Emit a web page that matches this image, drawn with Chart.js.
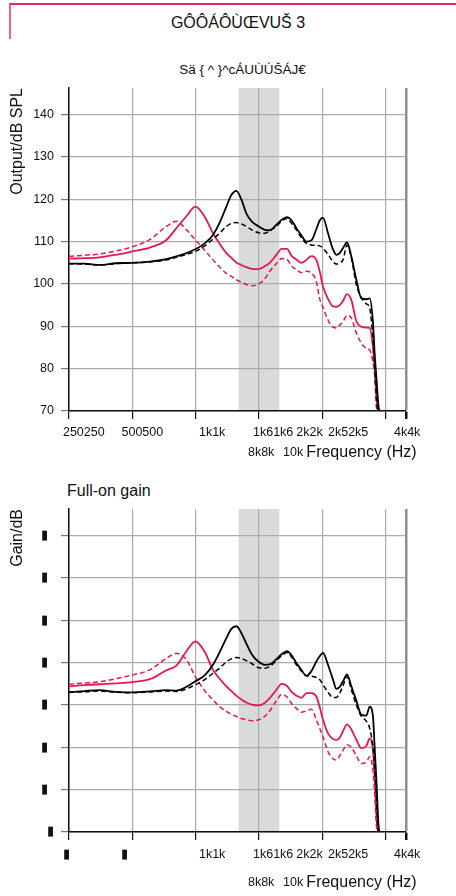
<!DOCTYPE html>
<html>
<head>
<meta charset="utf-8">
<script src="https://cdn.jsdelivr.net/npm/chart.js@4.4.1/dist/chart.umd.min.js"></script>
<style>
  body { margin: 0; width: 456px; height: 896px; position: relative; overflow: hidden; background: #fff;
         font-family: 'Liberation Sans', Arial, sans-serif; color: #111; }
  canvas { position: absolute; left: 0; }
  #outChart { top: 0; }
  #gainChart { top: 470px; }
  .frame { position: absolute; left: 9px; top: 3px; right: 0; height: 34px;
           border-top: 2px solid #e2285e; border-left: 2px solid #f2648c; }
  .title { position: absolute; left: 10px; right: -10px; top: 13px; line-height: 20px;
           text-align: center; font-size: 16px; }
  .subtitle { position: absolute; left: 29px; right: 0; top: 61px; line-height: 18px;
              text-align: center; font-size: 13.5px; }
  .gaintitle { position: absolute; left: 67px; top: 481px; line-height: 19px; font-size: 16px; }
</style>
</head>
<body>
<div class="frame"></div>
<div class="title">GÔÔÁÔÙŒVUŠ 3</div>
<div class="subtitle">Sä { ^ }^cÁUÙÚŠÁJ€</div>
<canvas id="outChart" width="456" height="470"></canvas>
<div class="gaintitle">Full-on gain</div>
<canvas id="gainChart" width="456" height="426"></canvas>
<script>
// frequencies (Hz) the curves were read at
var freqs = [250, 297, 350, 417, 500, 605, 726, 810, 904, 997, 1104, 1209, 1301, 1400, 1478, 1561, 1649,
    1742, 1847, 1994, 2128, 2249, 2420, 2565, 2718, 2862, 3013, 3182, 3361, 3550, 3750, 3888, 4031, 4258,
    4497, 4666, 4840, 5018, 5242, 5499, 5808, 6135, 6480, 6718, 6964, 7096, 7253, 7373, 7455];

// output, dB SPL
var outBlackSolid = [104.8, 104.8, 104.5, 104.9, 105.0, 105.3, 105.9, 106.5, 107.3, 108.2, 109.6, 111.6, 114.5,
    118.3, 121.0, 122.0, 120.0, 116.7, 114.8, 113.6, 112.8, 112.7, 114.0, 115.2, 115.8, 115.0, 113.2, 111.5,
    110.0, 110.3, 113.0, 115.0, 115.7, 112.0, 108.2, 106.9, 107.3, 108.5, 109.8, 106.5, 101.0, 96.6, 96.4,
    96.6, 91.0, 83.6, 77.0, 72.0, 70];
var outBlackDashed = [104.8, 104.7, 104.5, 104.8, 105.0, 105.2, 105.7, 106.3, 107.0, 107.7, 109.0, 110.6, 112.0,
    113.6, 114.3, 114.5, 114.2, 113.6, 112.8, 112.1, 112.0, 112.6, 113.6, 114.9, 115.5, 114.3, 112.8, 110.9,
    109.6, 109.2, 109.1, 109.0, 108.5, 107.0, 105.3, 104.7, 105.0, 105.7, 109.2, 106.1, 99.8, 96.8, 95.3,
    94.3, 87.0, 80.5, 72.5, 70, 70];
var outRedSolid = [106.0, 106.1, 106.3, 106.9, 107.7, 108.6, 110.4, 113.2, 116.0, 118.3, 115.9, 112.0, 109.5,
    107.3, 106.2, 105.1, 104.5, 104.0, 103.6, 103.5, 104.2, 105.0, 106.9, 108.3, 108.3, 106.6, 105.8, 105.0,
    105.7, 106.6, 105.7, 103.0, 99.4, 96.5, 94.7, 94.6, 95.0, 96.0, 97.6, 96.2, 91.2, 89.9, 89.7, 89.6, 85.0,
    79.7, 72.5, 70, 70];
var outRedDashed = [106.5, 106.8, 107.1, 107.8, 108.8, 110.5, 113.6, 114.8, 112.8, 110.4, 108.0, 105.7, 104.0,
    102.5, 101.8, 101.0, 100.4, 99.9, 99.6, 100.0, 101.2, 103.0, 104.8, 106.0, 105.8, 104.2, 103.4, 102.7,
    103.0, 102.6, 100.5, 96.5, 94.5, 91.5, 89.8, 89.6, 90.3, 91.1, 92.6, 92.0, 88.4, 86.0, 84.8, 84.4, 81.5,
    78.5, 70.5, 70, 70];

// full-on gain, dB
var gainBlackSolid = [53.0, 53.3, 53.5, 53.1, 53.0, 53.2, 53.5, 53.4, 54.3, 55.6, 57.0, 59.5, 62.5, 65.8, 68.0,
    68.6, 67.0, 64.5, 62.0, 60.2, 59.5, 59.6, 60.8, 62.0, 62.7, 61.7, 59.9, 58.3, 56.9, 58.0, 60.3, 61.5, 62.3,
    59.5, 56.0, 53.8, 54.3, 55.6, 57.2, 54.4, 51.0, 47.7, 47.5, 49.6, 47.3, 40.0, 31.0, 23.0, 20];
var gainBlackDashed = [53.0, 53.1, 53.3, 53.0, 52.9, 53.1, 53.3, 53.2, 53.8, 54.8, 56.0, 57.5, 58.7, 60.2, 60.9,
    61.2, 61.0, 60.5, 59.8, 58.8, 58.7, 59.1, 60.5, 61.6, 62.4, 61.3, 59.5, 58.0, 56.9, 56.8, 56.5, 56.0, 54.8,
    53.0, 51.8, 51.8, 52.8, 54.5, 56.7, 53.6, 50.0, 47.3, 46.2, 44.5, 40.0, 35.0, 27.0, 20, 20];
var gainRedSolid = [54.4, 54.7, 54.9, 55.1, 55.4, 56.1, 58.2, 59.3, 62.7, 65.0, 62.6, 58.3, 56.2, 54.4, 53.3,
    52.2, 51.3, 50.6, 50.1, 49.9, 50.5, 51.6, 53.6, 55.0, 54.5, 53.1, 52.2, 51.7, 52.8, 52.8, 52.0, 49.5, 46.5,
    43.3, 42.0, 41.7, 42.3, 43.8, 45.4, 44.2, 41.8, 39.8, 40.3, 42.1, 39.4, 33.0, 23.0, 20, 20];
var gainRedDashed = [54.9, 55.2, 55.5, 56.2, 57.1, 58.3, 61.0, 62.2, 60.7, 56.7, 53.4, 51.2, 49.6, 48.5, 47.8,
    47.3, 46.8, 46.5, 46.3, 46.5, 47.3, 48.6, 51.0, 52.5, 51.9, 50.3, 49.2, 48.3, 48.6, 49.0, 46.5, 44.5, 42.5,
    39.0, 37.3, 37.0, 38.0, 39.3, 40.6, 40.0, 38.0, 36.2, 36.5, 37.8, 34.6, 29.0, 21.0, 20, 20];

var outTicks = [70, 80, 90, 100, 110, 120, 130, 140];
var gainTicks = [20, 30, 40, 50, 60, 70, 80, 90];
var gridFreqs = [250, 500, 1000, 2000, 4000, 8000, 10000];
var bandFreqs = [1600, 2500];

// tick label texts as printed, and the frequency each one starts at
var labelFreqs = [234, 444, 1037, 1873, 3012, 4257, 8765];
var outFreqLabels = ['250250', '500500', '1k1k', '1k61k6', '2k2k', '2k52k5', '4k4k'];
var gainFreqLabels = ['\u25AE', '\u25AE', '1k1k', '1k61k6', '2k2k', '2k52k5', '4k4k'];
var labelFreqs2 = [1773, 2601, 3360];
var freqLabels2 = ['8k8k', '10k', 'Frequency (Hz)'];

var RED = '#e5194c';
var SANS = "'Liberation Sans', Arial, sans-serif";
var TICK_FONT = { family: SANS, size: 12.5, lineHeight: '15px' };

function lineSet(values, color, dashed) {
    return {
        data: values,
        borderColor: color,
        borderWidth: dashed ? 1.5 : 1.8,
        borderDash: dashed ? [5, 3] : [],
        pointRadius: 0,
        fill: false,
        cubicInterpolationMode: 'monotone'
    };
}

var bandPlugin = {
    id: 'band',
    beforeDraw: function (chart) {
        var x = chart.scales.x, area = chart.chartArea, ctx = chart.ctx;
        var x0 = x.getPixelForValue(bandFreqs[0]);
        var x1 = x.getPixelForValue(bandFreqs[1]);
        ctx.save();
        ctx.fillStyle = '#d9dada';
        ctx.fillRect(x0, area.top, x1 - x0, area.bottom - area.top);
        ctx.restore();
    }
};

function setTicks(values) {
    return function (scale) {
        scale.ticks = values.map(function (v) { return { value: v }; });
    };
}

function labelAxis(freqList, texts, weight, height, pad) {
    return {
        type: 'logarithmic', min: 250, max: 10000, position: 'bottom', weight: weight,
        afterBuildTicks: setTicks(freqList),
        afterFit: function (s) { s.height = height; },
        grid: { display: false, drawTicks: false },
        border: { display: false },
        ticks: {
            autoSkip: false, maxRotation: 0, minRotation: 0, align: 'start', padding: pad, color: '#111',
            font: function (c) {
                return c.tick && texts[c.index] === 'Frequency (Hz)'
                    ? { family: SANS, size: 16, lineHeight: '15px' } : TICK_FONT;
            },
            callback: function (v, i) { return texts[i]; }
        }
    };
}

function drawPanel(id, sets, yMin, yMax, yTicks, yTitle, yLabel, row1Texts, g) {
    var ctx = document.getElementById(id).getContext('2d');
    new Chart(ctx, {
        type: 'line',
        data: { labels: freqs, datasets: sets },
        options: {
            responsive: false,
            animation: false,
            layout: { padding: { top: g.top, right: 50, left: 0, bottom: 0 } },
            plugins: { legend: { display: false }, tooltip: { enabled: false } },
            scales: {
                x: {
                    type: 'logarithmic', min: 250, max: 10000, weight: 0,
                    afterBuildTicks: setTicks(gridFreqs),
                    afterFit: function (s) { s.height = 8; },
                    ticks: { display: false },
                    grid: {
                        color: function (c) { return c.tick && c.tick.value === 10000 ? '#8e8e8e' : '#ababab'; },
                        lineWidth: function (c) { return c.tick && c.tick.value === 10000 ? 2.5 : 1.2; },
                        tickLength: 8, tickColor: '#111'
                    },
                    border: { color: '#111', width: 1.5 }
                },
                x1: labelAxis(labelFreqs, row1Texts, 1, g.row1, g.pad1),
                x2: labelAxis(labelFreqs2, freqLabels2, 2, g.row2, g.pad2),
                y: {
                    min: yMin, max: yMax,
                    afterBuildTicks: setTicks(yTicks),
                    afterFit: function (s) { s.width = 69; },
                    ticks: { font: TICK_FONT, color: '#111', padding: 7, callback: yLabel },
                    grid: { color: '#ababab', lineWidth: 1.2, tickLength: 8, tickColor: '#777' },
                    border: { color: '#111', width: 1.5 },
                    title: {
                        display: true, text: yTitle, align: 'end', color: '#111',
                        font: { family: SANS, size: 16 }, padding: { top: 8, bottom: 0 }
                    }
                }
            }
        },
        plugins: [bandPlugin]
    });
}

drawPanel('outChart', [
    lineSet(outBlackSolid, '#000', false),
    lineSet(outBlackDashed, '#000', true),
    lineSet(outRedSolid, RED, false),
    lineSet(outRedDashed, RED, true)
], 70, 146.3, outTicks, 'Output/dB SPL', function (v) { return String(v); }, outFreqLabels,
    { top: 88, row1: 22, pad1: 6.5, row2: 29, pad2: 4.5 });

// gain tick numbers did not render in the source, they show as boxes
drawPanel('gainChart', [
    lineSet(gainBlackSolid, '#000', false),
    lineSet(gainBlackDashed, '#000', true),
    lineSet(gainRedSolid, RED, false),
    lineSet(gainRedDashed, RED, true)
], 20, 96.3, gainTicks, 'Gain/dB', function (v) { return v > gainTicks[0] ? '\u25AE\u2002' : '\u25AE'; },
    gainFreqLabels, { top: 39, row1: 30, pad1: 7.3, row2: 26, pad2: 5 });
</script>
</body>
</html>
